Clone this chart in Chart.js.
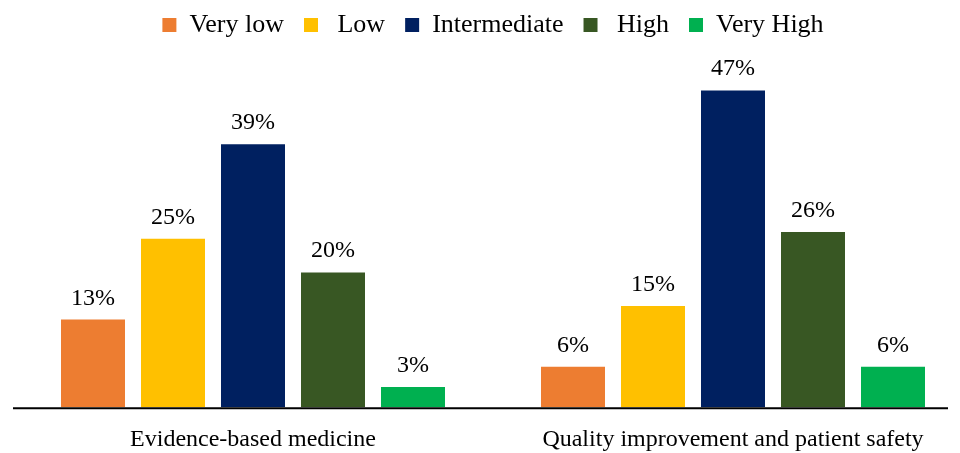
<!DOCTYPE html>
<html>
<head>
<meta charset="utf-8">
<script src="https://cdn.jsdelivr.net/npm/chart.js@4/dist/chart.umd.min.js"></script>
<style>
  html, body { margin: 0; padding: 0; background: #ffffff; overflow: hidden; }
  #wrap { position: relative; width: 975px; height: 453px; }
</style>
</head>
<body>
<div id="wrap"><canvas id="chart"></canvas></div>
<script>
// Categories and series (percent of respondents per rating level)
const categories = ['Evidence-based medicine', 'Quality improvement and patient safety'];
const levels = ['Very low', ' Low', 'Intermediate', ' High', 'Very High'];
const veryLow = [13, 6];
const low = [25, 15];
const intermediate = [39, 47];
const high = [20, 26];
const veryHigh = [3, 6];

const colors = ['#ED7D31', '#FFC000', '#002060', '#385723', '#00B050'];
const series = [veryLow, low, intermediate, high, veryHigh];

const serif = "'Liberation Serif', 'Times New Roman', serif";

// Percent labels above each bar
const valueLabels = {
  id: 'valueLabels',
  afterDatasetsDraw(chart) {
    const ctx = chart.ctx;
    ctx.save();
    ctx.font = '24px ' + serif;
    ctx.fillStyle = '#000000';
    ctx.textAlign = 'center';
    ctx.textBaseline = 'alphabetic';
    chart.data.datasets.forEach((ds, i) => {
      const meta = chart.getDatasetMeta(i);
      meta.data.forEach((bar, j) => {
        ctx.fillText(ds.data[j] + '%', bar.x, bar.y - 15);
      });
    });
    ctx.restore();
  }
};

// Horizontal baseline under the bars
const baseline = {
  id: 'baseline',
  afterDatasetsDraw(chart) {
    const ctx = chart.ctx;
    const area = chart.chartArea;
    const y0 = chart.scales.y.getPixelForValue(0) + 1;
    ctx.save();
    ctx.strokeStyle = '#000000';
    ctx.lineWidth = 2;
    ctx.beginPath();
    ctx.moveTo(area.left, y0);
    ctx.lineTo(area.right - 25, y0);
    ctx.stroke();
    ctx.restore();
  }
};

new Chart(document.getElementById('chart'), {
  type: 'bar',
  data: {
    labels: categories,
    datasets: levels.map((name, i) => ({
      label: name,
      data: series[i],
      backgroundColor: colors[i],
      borderWidth: 0,
      barPercentage: 0.8,
      categoryPercentage: 400 / 480
    }))
  },
  options: {
    responsive: true,
    maintainAspectRatio: false,
    animation: false,
    layout: { padding: { left: 13, right: 2, top: -8, bottom: -19 } },
    plugins: {
      legend: {
        position: 'top',
        fullSize: false,
        labels: {
          boxWidth: 14,
          boxHeight: 14,
          padding: 20,
          color: '#000000',
          font: { family: serif, size: 26 }
        }
      },
      tooltip: { enabled: false }
    },
    scales: {
      x: {
        grid: { display: false, drawTicks: false },
        border: { display: false },
        ticks: {
          color: '#000000',
          padding: 18,
          font: { family: serif, size: 24 }
        }
      },
      y: {
        display: false,
        min: 0,
        max: 53.3
      }
    }
  },
  plugins: [valueLabels, baseline]
});
</script>
</body>
</html>
